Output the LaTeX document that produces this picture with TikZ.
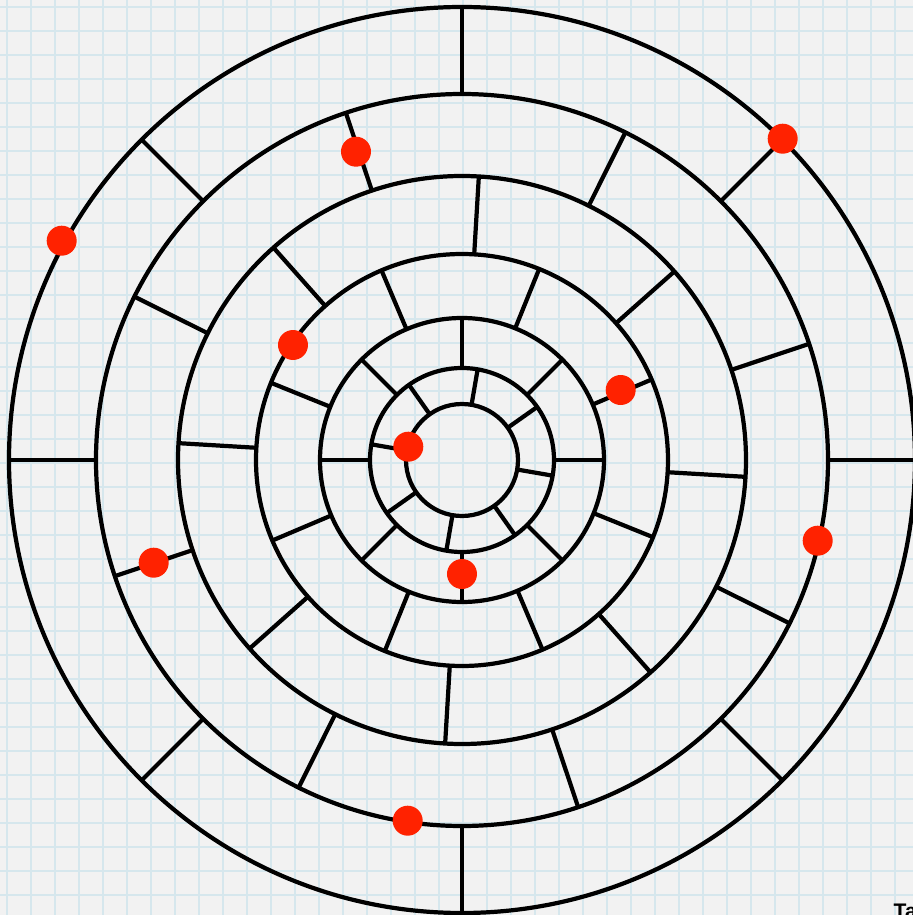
\documentclass[tikz,border=0pt]{standalone}
\usepackage{fontspec}
\setsansfont{Liberation Sans}
\definecolor{paper}{RGB}{242,242,242}
\definecolor{gridblue}{RGB}{214,231,237}
\definecolor{dotred}{RGB}{255,34,0}
\tikzset{
  gridline/.style={draw=gridblue, line width=0.45pt},
  wall/.style={draw=black, line width=1.2pt},
  ring/.style={draw=black, line width=1.2pt},
  reddot/.style={circle, fill=dotred, draw=none, minimum size=0.30cm, inner sep=0pt},
}
\begin{document}
\begin{tikzpicture}
\useasboundingbox (-4.62,-4.55) rectangle (4.51,4.60);
\clip (-4.62,-4.55) rectangle (4.51,4.60);
\fill[paper] (-4.62,-4.55) rectangle (4.51,4.60);
% graph paper
\foreach \k in {0,...,37} {
  \draw[gridline] ({(7+24*\k-462)/100},-4.55) -- ({(7+24*\k-462)/100},4.60);
  \draw[gridline] (-4.62,{(460-7-24*\k)/100}) -- (4.51,{(460-7-24*\k)/100});
}
% rings
\foreach \r in {0.56,0.92,1.42,2.06,2.84,3.66,4.53} {
  \draw[ring] (0,0) circle[radius=\r cm];
}
% radial walls, ring 1
\foreach \a in {0,...,7} \draw[wall] ({35.2+45*\a}:0.56) -- ({35.2+45*\a}:0.92);
% ring 2
\foreach \a in {0,...,7} \draw[wall] ({45*\a}:0.92) -- ({45*\a}:1.42);
% ring 3
\foreach \a in {0,...,7} \draw[wall] ({23+45*\a}:1.42) -- ({23+45*\a}:2.06);
% ring 4
\foreach \a in {0,...,7} \draw[wall] ({41.6+45*\a}:2.06) -- ({41.6+45*\a}:2.84);
% ring 5
\foreach \a in {0,...,7} \draw[wall] ({18.5+45*\a}:2.84) -- ({18.5+45*\a}:3.66);
% ring 6
\foreach \a in {0,...,7} \draw[wall] ({45*\a}:3.66) -- ({45*\a}:4.53);
% red dots
\node[reddot] (d1) at (-4.003,2.193) {};
\node[reddot] (d2) at (-1.06,3.083) {};
\node[reddot] (d3) at (3.207,3.213) {};
\node[reddot] (d4) at (-1.69,1.15) {};
\node[reddot] (d5) at (1.587,0.70) {};
\node[reddot] (d6) at (-0.537,0.133) {};
\node[reddot] (d7) at (3.557,-0.807) {};
\node[reddot] (d8) at (-3.083,-1.027) {};
\node[reddot] (d9) at (0,-1.14) {};
\node[reddot] (d10) at (-0.543,-3.607) {};
% label cut off at the corner, as in the reference
\node[anchor=north west, inner sep=0pt, font=\sffamily\bfseries\fontsize{6}{7}\selectfont] (lbl) at (4.31,-4.43) {Ta};
\end{tikzpicture}
\end{document}
